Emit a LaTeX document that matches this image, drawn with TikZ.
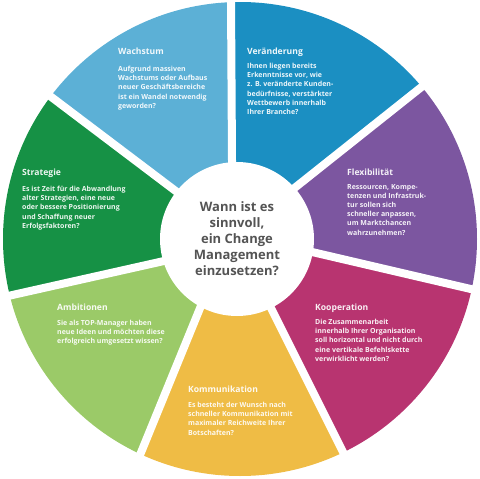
\documentclass[tikz,border=0pt]{standalone}
\usepackage{fontspec}
\setmainfont{Open Sans}
\usetikzlibrary{calc}
\definecolor{wachstum}{RGB}{92,176,214}
\definecolor{veraenderung}{RGB}{27,143,194}
\definecolor{flexibilitaet}{RGB}{124,86,160}
\definecolor{kooperation}{RGB}{184,52,112}
\definecolor{kommunikation}{RGB}{239,188,69}
\definecolor{ambitionen}{RGB}{155,202,104}
\definecolor{strategie}{RGB}{22,145,69}
\definecolor{mittetext}{RGB}{84,84,84}
\def\gapline(#1)(#2)(#3){\coordinate (#1i) at ($(#2)!-40pt!(#3)$); \coordinate (#1o) at ($(#2)!300pt!(#3)$);}
\def\sector[#1](#2)(#3){\fill[#1] (c) -- (#2i) -- (#2o) -- (#3o) -- (#3i) -- cycle;}
\tikzset{
  titel/.style={anchor=north west, inner sep=0pt, text=white, text opacity=0.92, font=\fontsize{8.6}{10}\selectfont\bfseries},
  frage/.style={anchor=north west, inner sep=0pt, text=white, text opacity=0.92, align=left, font=\fontsize{7}{9.2}\selectfont\bfseries},
  luecke/.style={white, line width=8pt},
}
\begin{document}
\begin{tikzpicture}[x=1pt,y=-1pt]
		%%%%% START %%%%%
		\useasboundingbox (0,0) rectangle (480,479);
		\coordinate (c) at (240,239);
		
		% gaps between the sectors
		\gapline(g1)(232,160)(231,0)
		\gapline(g2)(297,186)(380,120)
		\gapline(g3)(312,252)(475,290)
		\gapline(g4)(277,320)(343,452)
		\gapline(g5)(196,318)(140,455)
		\gapline(g6)(164,261)(8,296)
		\gapline(g7)(173,189)(50,96)
		
		\begin{scope}
		\clip (c) circle (237pt);
		\sector[wachstum](g7)(g1)
		\sector[veraenderung](g1)(g2)
		\sector[flexibilitaet](g2)(g3)
		\sector[kooperation](g3)(g4)
		\sector[kommunikation](g4)(g5)
		\sector[ambitionen](g5)(g6)
		\sector[strategie](g6)(g7)
		\end{scope}
		
		\draw[luecke] (g1i) -- (g1o);
		\draw[luecke] (g2i) -- (g2o);
		\draw[luecke] (g3i) -- (g3o);
		\draw[luecke] (g4i) -- (g4o);
		\draw[luecke] (g5i) -- (g5o);
		\draw[luecke] (g6i) -- (g6o);
		\draw[luecke] (g7i) -- (g7o);
		
		\node[circle, fill=white, minimum size=154pt, inner sep=0pt, align=center, text=mittetext,
		  font=\fontsize{13}{16}\selectfont\bfseries] (mitte) at (237,239)
		  {Wann ist es\\sinnvoll,\\ein Change\\Management\\einzusetzen?};
		
		\node[titel] (wachstumT) at (118,48) {Wachstum};
		\node[frage] (wachstumF) at (118,66) {Aufgrund massiven\\Wachstums oder Aufbaus\\neuer Geschäftsbereiche\\ist ein Wandel notwendig\\geworden?};
		
		\node[titel] (veraenderungT) at (247,48) {Veränderung};
		\node[frage] (veraenderungF) at (247,63) {Ihnen liegen bereits\\Erkenntnisse vor, wie\\z. B. veränderte Kunden-\\bedürfnisse, verstärkter\\Wettbewerb innerhalb\\Ihrer Branche?};
		
		\node[titel] (flexibilitaetT) at (347,169) {Flexibilität};
		\node[frage] (flexibilitaetF) at (347,184) {Ressourcen, Kompe-\\tenzen und Infrastruk-\\tur sollen sich\\schneller anpassen,\\um Marktchancen\\wahrzunehmen?};
		
		\node[titel] (kooperationT) at (315,304) {Kooperation};
		\node[frage] (kooperationF) at (315,319) {Die Zusammenarbeit\\innerhalb Ihrer Organisation\\soll horizontal und nicht durch\\eine vertikale Befehlskette\\verwirklicht werden?};
		
		\node[titel] (kommunikationT) at (188,386) {Kommunikation};
		\node[frage] (kommunikationF) at (188,402) {Es besteht der Wunsch nach\\schneller Kommunikation mit\\maximaler Reichweite Ihrer\\Botschaften?};
		
		\node[titel] (ambitionenT) at (57,304) {Ambitionen};
		\node[frage] (ambitionenF) at (57,320) {Sie als TOP-Manager haben\\neue Ideen und möchten diese\\erfolgreich umgesetzt wissen?};
		
		\node[titel] (strategieT) at (22,169) {Strategie};
		\node[frage] (strategieF) at (22,186) {Es ist Zeit für die Abwandlung\\alter Strategien, eine neue\\oder bessere Positionierung\\und Schaffung neuer\\Erfolgsfaktoren?};
		
		%%%%% END %%%%%
\end{tikzpicture}
\end{document}
